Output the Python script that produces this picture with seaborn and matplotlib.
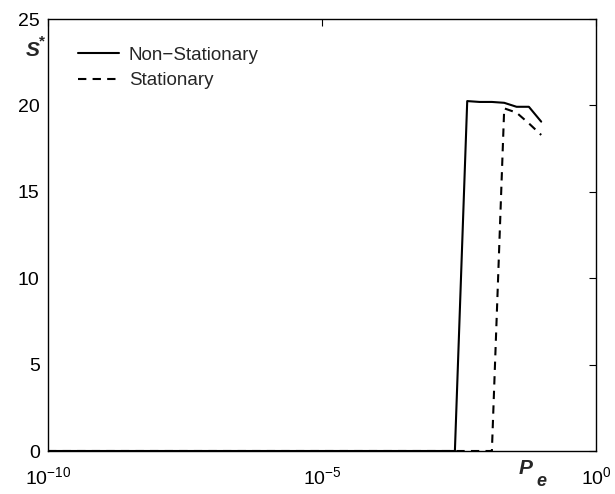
import matplotlib
matplotlib.use("Agg")
import matplotlib.pyplot as plt
import seaborn as sns
import pandas as pd
from matplotlib.lines import Line2D

# log10 of Pe
log_pe = [-10.0, -2.575, -2.35, -2.125, -1.9, -1.675, -1.45, -1.225, -1.0]
non_stationary = [0.0, 0.0, 20.25, 20.2, 20.2, 20.15, 19.92, 19.92, 19.06]
stationary = [0.0, 0.0, 0.0, 0.0, 0.0, 19.83, 19.58, 18.96, 18.29]
series_names = ["Non\u2212Stationary", "Stationary"]

pe = [10.0 ** v for v in log_pe]
df = pd.DataFrame({
    "Pe": pe * 2,
    "S": non_stationary + stationary,
    "series": [series_names[0]] * len(pe) + [series_names[1]] * len(pe),
})

sns.set_theme(style="white")
plt.rcParams["font.family"] = ["Liberation Sans", "DejaVu Sans"]
plt.rcParams["mathtext.fontset"] = "custom"
plt.rcParams["mathtext.rm"] = "Liberation Sans"
plt.rcParams["mathtext.it"] = "Liberation Sans:italic"
plt.rcParams["mathtext.bf"] = "Liberation Sans:bold"

LW = 1.5
DASH = (4, 3)

fig = plt.figure(figsize=(6.15, 4.94), dpi=100)
ax = fig.add_axes([48 / 615, 1 - 451 / 494, 548 / 615, 432 / 494])

sns.lineplot(data=df, x="Pe", y="S", hue="series", style="series",
             palette=["black", "black"], dashes=[(None, None), DASH],
             linewidth=LW, ax=ax, legend=False)

ax.set_xscale("log")
ax.set_xlim(1e-10, 1)
ax.set_ylim(0, 25)
ax.set_xticks([1e-10, 1e-5, 1e0])
ax.set_xticklabels([r"$\mathregular{10^{-10}}$", r"$\mathregular{10^{-5}}$", r"$\mathregular{10^{0}}$"])
ax.xaxis.set_minor_locator(matplotlib.ticker.NullLocator())
ax.set_yticks([0, 5, 10, 15, 20, 25])
ax.tick_params(direction="in", length=5, width=0.8, top=True, right=True,
               labelsize=14, colors="black")
ax.tick_params(axis="x", pad=11)
ax.tick_params(axis="y", pad=6)
for s in ax.spines.values():
    s.set_color("black")
    s.set_linewidth(1.0)
ax.set_xlabel("")
ax.set_ylabel("")

fig.text(33 / 615, 1 - 50 / 494, "S", fontsize=15, fontweight="bold", fontstyle="italic",
         ha="center", va="center")
fig.text(42 / 615, 1 - 41 / 494, "*", fontsize=11, fontweight="bold", ha="center", va="center")
fig.text(526 / 615, 1 - 468 / 494, "P", fontsize=15, fontweight="bold", fontstyle="italic",
         ha="center", va="center")
fig.text(541 / 615, 1 - 481 / 494, "e", fontsize=13, fontweight="bold", fontstyle="italic",
         ha="center", va="center")

# legend
handles = [Line2D([0], [0], color="black", lw=LW, ls="-"),
           Line2D([0], [0], color="black", lw=LW, ls=(0, DASH))]
ax.legend(handles, series_names, loc="upper left", frameon=False, fontsize=13.5,
          handlelength=2.2, handletextpad=0.5, labelspacing=0.45,
          bbox_to_anchor=(0.024, 0.975))

fig.savefig("out.png", dpi=100)
